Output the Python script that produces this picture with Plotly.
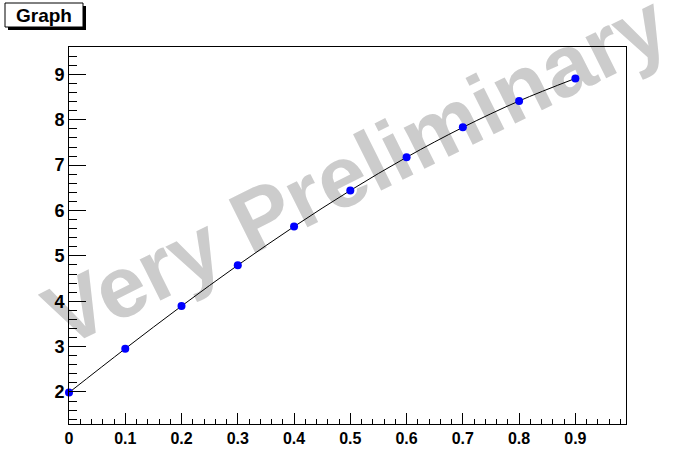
import plotly.graph_objects as go

# Data
x_vals = [0.0, 0.1, 0.2, 0.3, 0.4, 0.5, 0.6, 0.7, 0.8, 0.9]
y_vals = [1.987, 2.955, 3.894, 4.794, 5.646, 6.442, 7.174, 7.833, 8.415, 8.912]
x_ticks = [0, 0.1, 0.2, 0.3, 0.4, 0.5, 0.6, 0.7, 0.8, 0.9]
x_tick_text = ["0", "0.1", "0.2", "0.3", "0.4", "0.5", "0.6", "0.7", "0.8", "0.9"]
y_ticks = [2, 3, 4, 5, 6, 7, 8, 9]
title_text = "Graph"
watermark_text = "Very Preliminary"

W, H = 696, 472
ML, MR, MT, MB = 69, 70, 47, 48
PW, PH = W - ML - MR, H - MT - MB


def px(xp):
    return (xp - ML) / PW


def py(yp):
    return (H - MB - yp) / PH


FONT = "Liberation Sans, Arial, Helvetica, sans-serif"

fig = go.Figure()
fig.add_trace(go.Scatter(
    x=x_vals, y=y_vals, mode="lines+markers",
    line=dict(color="black", width=1, shape="spline"),
    marker=dict(color="#0000ff", size=8, symbol="circle"),
    cliponaxis=False, showlegend=False,
))

# watermark (behind data)
cx, cy = px(352), py(162)
fig.add_shape(
    type="rect", xref="paper", yref="paper",
    x0=cx - 0.02, x1=cx + 0.02, y0=cy - 0.02, y1=cy + 0.02,
    line=dict(width=0), fillcolor="rgba(0,0,0,0)", layer="below",
    label=dict(text=watermark_text, textangle=-26.5, textposition="middle center",
               font=dict(family=FONT, size=87, color="#cccccc", weight="bold")),
)

# title box with shadow
fig.add_shape(type="rect", xref="paper", yref="paper",
              x0=px(8), x1=px(86), y0=py(30), y1=py(6),
              line=dict(width=0), fillcolor="black", layer="above")
fig.add_shape(type="rect", xref="paper", yref="paper",
              x0=px(5), x1=px(83), y0=py(27), y1=py(3),
              line=dict(width=1, color="black"), fillcolor="white", layer="above")
fig.add_annotation(x=px(44), y=py(15), xref="paper", yref="paper",
                   text=title_text, showarrow=False, xanchor="center", yanchor="middle",
                   font=dict(family=FONT, size=19, color="black", weight="bold"))

fig.update_xaxes(
    range=[0, 0.99], tickmode="array", tickvals=x_ticks, ticktext=x_tick_text,
    ticks="inside", ticklen=11, tickwidth=1, tickcolor="black",
    minor=dict(ticks="inside", ticklen=5, dtick=0.02, tick0=0, tickcolor="black", tickwidth=1),
    showline=True, linecolor="black", linewidth=1, mirror=True,
    showgrid=False, zeroline=False,
    tickfont=dict(family=FONT, size=16, color="black", weight="bold"),
)
fig.update_yaxes(
    range=[1.2942, 9.6045], tickmode="array", tickvals=y_ticks,
    ticks="inside", ticklen=17, tickwidth=1, tickcolor="black",
    minor=dict(ticks="inside", ticklen=8, dtick=0.2, tick0=0, tickcolor="black", tickwidth=1),
    showline=True, linecolor="black", linewidth=1, mirror=True,
    showgrid=False, zeroline=False,
    tickfont=dict(family=FONT, size=18, color="black", weight="bold"),
)

fig.update_layout(
    width=W, height=H,
    margin=dict(l=ML, r=MR, t=MT, b=MB),
    paper_bgcolor="white", plot_bgcolor="rgba(0,0,0,0)",
    showlegend=False,
)

fig.write_html("out.html", config={"displayModeBar": False},
               post_script="document.body.style.margin='0';")
